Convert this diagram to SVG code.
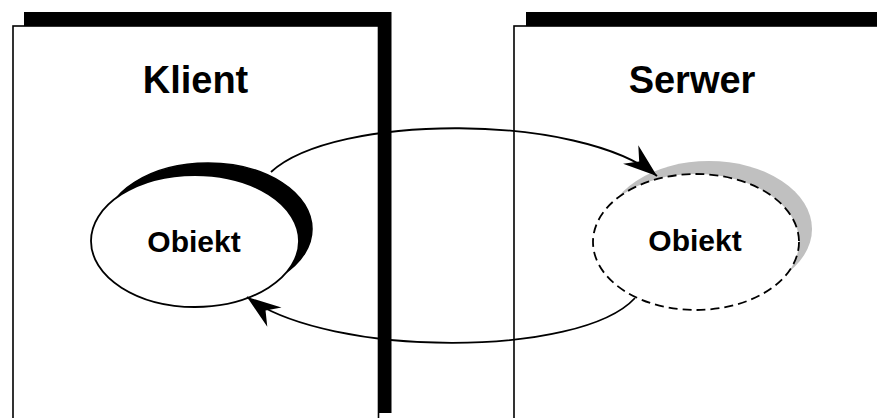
<svg xmlns="http://www.w3.org/2000/svg" width="877" height="418" viewBox="0 0 877 418">
<defs>
<style>
.shadow{fill:#000;stroke:none}
.box{fill:#fff;stroke:#000;stroke-width:1.6}
.title{font-family:"Liberation Sans",Arial,sans-serif;font-weight:bold;font-size:38px;text-anchor:middle;fill:#000}
.label{font-family:"Liberation Sans",Arial,sans-serif;font-weight:bold;font-size:30px;text-anchor:middle;fill:#000}
.obj{fill:#fff;stroke:#000;stroke-width:1.8}
.dashed{stroke-dasharray:9 5}
.conn{fill:none;stroke:#000;stroke-width:1.8;marker-end:url(#arrow)}
</style>
<marker id="arrow" markerUnits="userSpaceOnUse" viewBox="-35 -14 37 28" refX="0" refY="0" markerWidth="37" markerHeight="28" orient="auto">
<path d="M0,0 L-34,-12 L-23,0 L-34,12 Z" fill="#000"/>
</marker>
</defs>
<rect width="877" height="418" fill="#fff"/>
<g id="klient">
<rect class="shadow" x="24" y="12" width="367.5" height="401"/>
<rect class="box" x="13" y="26" width="365.5" height="410"/>
<text class="title" x="195.5" y="93">Klient</text>
</g>
<g id="serwer">
<rect class="shadow" x="526" y="12" width="380" height="401"/>
<rect class="box" x="514" y="26" width="380" height="410"/>
<text class="title" x="692" y="93">Serwer</text>
</g>
<g id="obiekt-klient">
<ellipse cx="208" cy="229" rx="104" ry="66" fill="#000" stroke="#000" stroke-width="1.5"/>
<ellipse class="obj" cx="195" cy="241" rx="104" ry="66"/>
<text class="label" x="194" y="252">Obiekt</text>
</g>
<g id="obiekt-serwer">
<ellipse cx="709" cy="229" rx="103" ry="68" fill="#c0c0c0"/>
<ellipse class="obj dashed" cx="696" cy="242" rx="103" ry="68"/>
<text class="label" x="695" y="251">Obiekt</text>
</g>
<g id="connectors">
<path class="conn" d="M271,172 C335,113 580,113 657,176"/>
<path class="conn" d="M635,298 C580,358 330,358 247,297"/>
</g>
</svg>
